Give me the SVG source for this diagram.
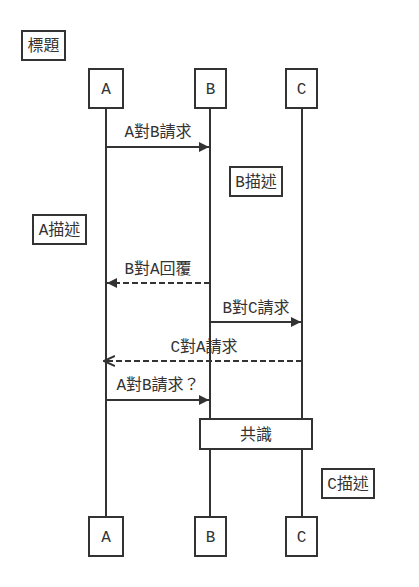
<svg xmlns="http://www.w3.org/2000/svg" width="419" height="587" viewBox="0 0 419 587">
<defs>
<style>
.box{fill:#fff;stroke:#333;stroke-width:2}
.life{stroke:#333;stroke-width:2;fill:none}
.msg{stroke:#333;stroke-width:2;fill:none}
.dash{stroke-dasharray:6 3}
text{font-family:"Liberation Mono","Noto Sans CJK TC",monospace;font-size:16px;fill:#333;text-anchor:middle}
</style>
<marker id="filled" viewBox="0 0 10 10" refX="10" refY="5" markerWidth="10" markerHeight="10" markerUnits="userSpaceOnUse" orient="auto">
<path d="M0,0 L10,5 L0,10 z" fill="#333"/>
</marker>
<marker id="open" viewBox="0 0 12 12" refX="11" refY="6" markerWidth="12" markerHeight="12" markerUnits="userSpaceOnUse" orient="auto">
<path d="M0,1 L11,6 L0,11" fill="none" stroke="#333" stroke-width="2"/>
</marker>
</defs>
<rect width="419" height="587" fill="#fff"/>
<g id="title"><rect class="box" x="22" y="31" width="43" height="29"/><text x="43.5" y="51">標題</text></g>
<g id="lifelines">
<line class="life" x1="106" y1="108" x2="106" y2="517"/>
<line class="life" x1="210" y1="108" x2="210" y2="517"/>
<line class="life" x1="302" y1="108" x2="302" y2="517"/>
</g>
<g id="participant-A-top"><rect class="box" x="89" y="69" width="34" height="39"/><text x="106" y="94">A</text></g>
<g id="participant-B-top"><rect class="box" x="195" y="69" width="31" height="39"/><text x="210.5" y="94">B</text></g>
<g id="participant-C-top"><rect class="box" x="286" y="69" width="31" height="39"/><text x="301.5" y="94">C</text></g>
<g id="participant-A-bottom"><rect class="box" x="89" y="517" width="34" height="39"/><text x="106" y="542">A</text></g>
<g id="participant-B-bottom"><rect class="box" x="195" y="517" width="31" height="39"/><text x="210.5" y="542">B</text></g>
<g id="participant-C-bottom"><rect class="box" x="286" y="517" width="31" height="39"/><text x="301.5" y="542">C</text></g>
<g id="connectors">
<line class="msg" x1="106" y1="147" x2="209" y2="147" marker-end="url(#filled)"/>
<text x="158" y="137">A對B請求</text>
<line class="msg dash" x1="210" y1="283" x2="107" y2="283" marker-end="url(#filled)"/>
<text x="158" y="274">B對A回覆</text>
<line class="msg" x1="210" y1="322" x2="301" y2="322" marker-end="url(#filled)"/>
<text x="256" y="313">B對C請求</text>
<line class="msg dash" x1="302" y1="361" x2="104" y2="361" marker-end="url(#open)"/>
<text x="204" y="352">C對A請求</text>
<line class="msg" x1="106" y1="400" x2="209" y2="400" marker-end="url(#filled)"/>
<text x="158" y="390">A對B請求？</text>
</g>
<g id="note-B"><rect class="box" x="230" y="167" width="52" height="29"/><text x="256" y="187">B描述</text></g>
<g id="note-A"><rect class="box" x="33" y="215" width="53" height="29"/><text x="59.5" y="235">A描述</text></g>
<g id="note-BC"><rect class="box" x="200" y="419" width="112" height="30"/><text x="256" y="439.5">共識</text></g>
<g id="note-C"><rect class="box" x="322" y="469" width="52" height="29"/><text x="348" y="489">C描述</text></g>
</svg>
